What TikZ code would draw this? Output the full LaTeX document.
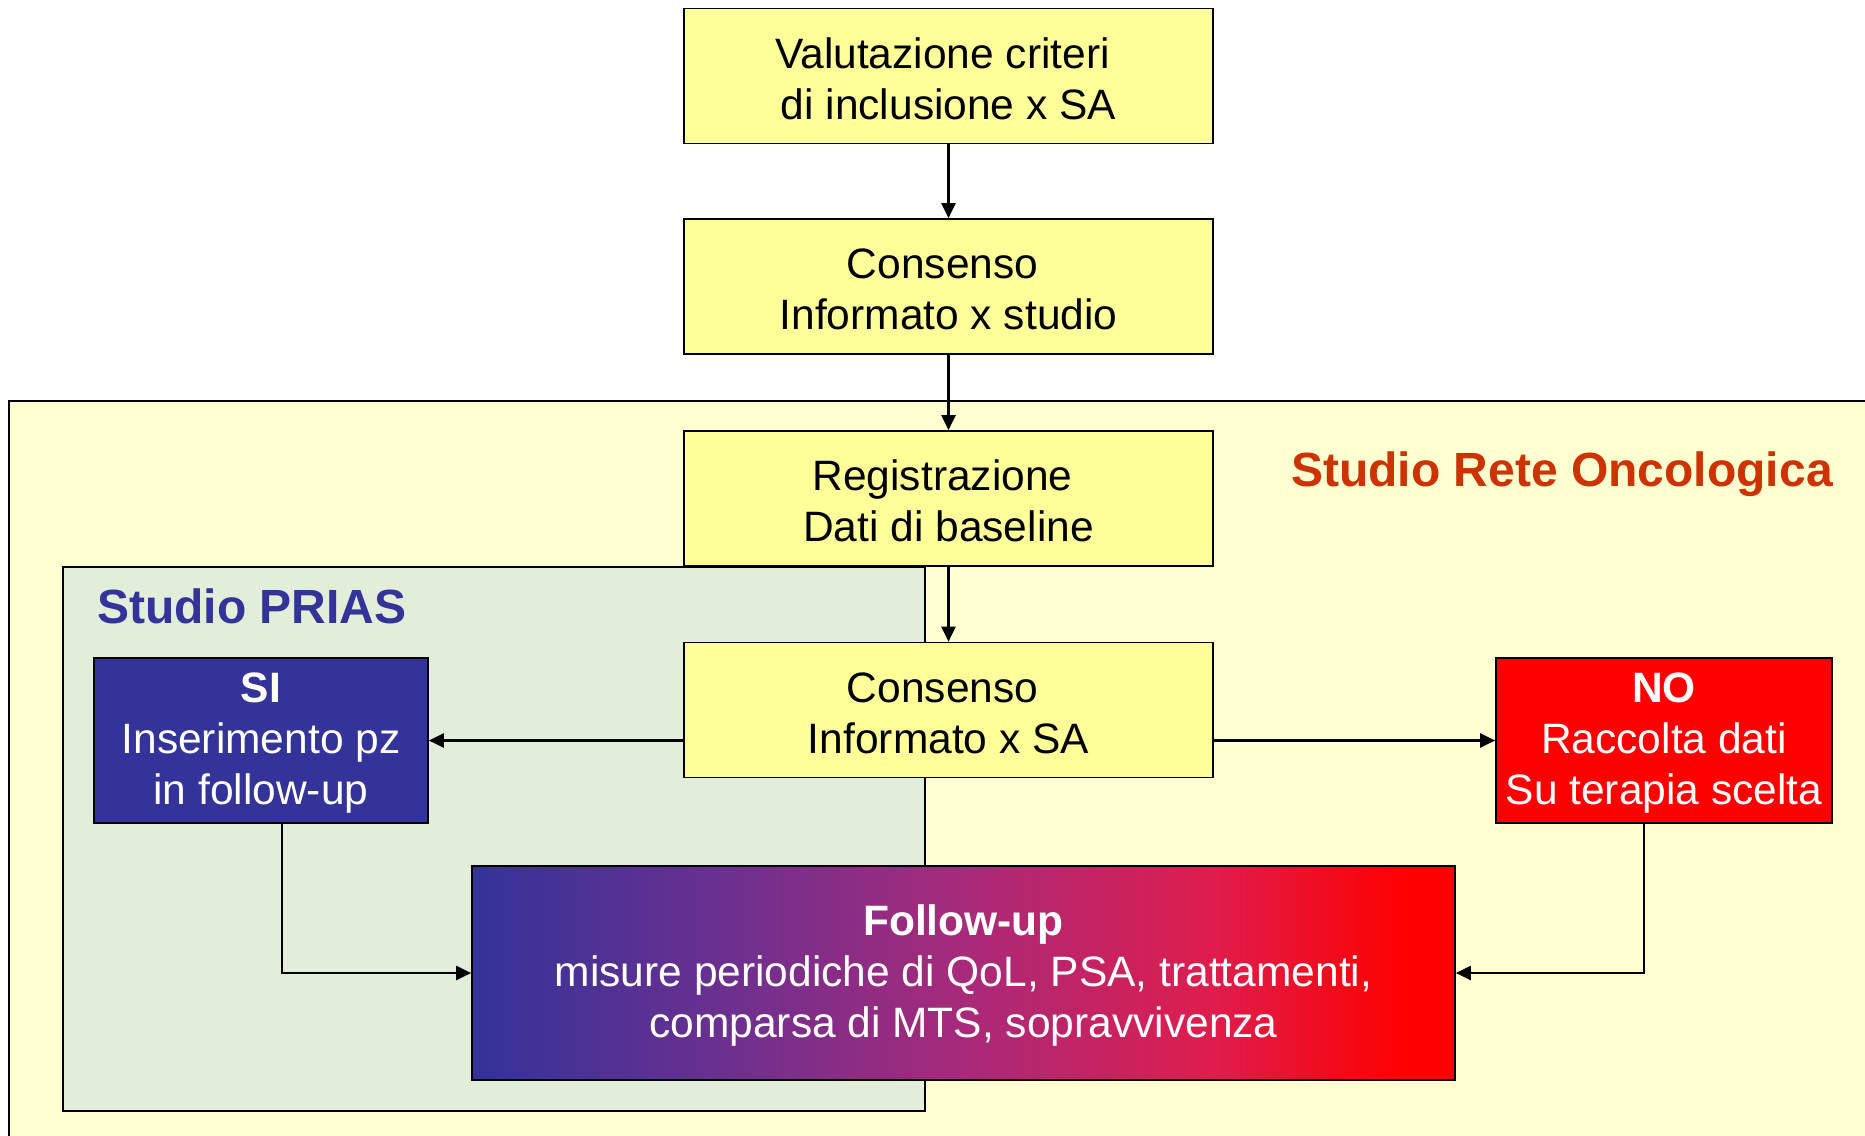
\documentclass[tikz,border=0pt]{standalone}
\usepackage{fontspec}
\setmainfont{Liberation Sans}
\usetikzlibrary{arrows.meta,calc}
\definecolor{boxyellow}{HTML}{FFFF99}
\definecolor{outerfill}{HTML}{FFFFD2}
\definecolor{priasfill}{HTML}{E2EEDA}
\definecolor{priasblue}{HTML}{333399}
\definecolor{reteorange}{HTML}{CC3300}
\definecolor{nored}{HTML}{FF0000}
\definecolor{gqa}{HTML}{6A3090}
\definecolor{gqb}{HTML}{A82A7A}
\definecolor{gqc}{HTML}{DE1D4E}
\pgfdeclarehorizontalshading{fushade}{100bp}{color(0bp)=(priasblue); color(25bp)=(priasblue); color(37.5bp)=(gqa); color(50bp)=(gqb); color(62.5bp)=(gqc); color(72.5bp)=(nored); color(100bp)=(nored)}
\newcommand{\tsp}{\hspace*{12pt}}
\begin{document}
\begin{tikzpicture}[x=1pt,y=-1pt,
  txt/.style={font=\fontsize{42.5}{51}\selectfont},
  ybox/.style={draw=black, line width=1.7pt, fill=boxyellow, minimum width=529pt,
    minimum height=135pt, align=center, inner sep=0pt, txt},
  cbox/.style={draw=black, line width=1.7pt, text=white, align=center, inner sep=0pt, txt},
  region/.style={draw=black, line width=1.7pt},
  title/.style={font=\fontsize{48}{58}\selectfont\bfseries, inner sep=0pt},
  arr/.style={line width=2.2pt, -{Triangle[length=15pt,width=14pt]}}]
\clip (0,0) rectangle (1865,1135);
\useasboundingbox (0,0) rectangle (1865,1135);
\fill[white] (0,0) rectangle (1865,1135);
% regions
\draw[region, fill=outerfill] (9,401) rectangle (1885,1150);
\draw[region, fill=priasfill] (63,567) rectangle (925,1111);
\node[title, text=reteorange] (rete) at (1562,474) {Studio Rete Oncologica};
\node[title, text=priasblue] (prias) at (252,606) {Studio PRIAS};
% boxes
\node[ybox] (b1) at (948.5,76) {\strut Valutazione criteri\tsp\\ di inclusione x SA};
\node[ybox] (b2) at (948.5,286.5) {\strut Consenso\tsp\\ Informato x studio};
\node[ybox] (b3) at (948.5,498.5) {\strut Registrazione\tsp\\ Dati di baseline};
\node[ybox] (b4) at (948.5,710) {\strut Consenso\tsp\\ Informato x SA};
\node[cbox, fill=priasblue, minimum width=334pt, minimum height=165pt] (si) at (261,740.5)
  {\strut\textbf{SI}\\ Inserimento pz\tsp\\ in follow-up};
\node[cbox, fill=nored, minimum width=336pt, minimum height=165pt] (no) at (1664,740.5)
  {\strut\textbf{NO}\\ Raccolta dati\\ Su terapia scelta};
\node[cbox, shading=fushade, minimum width=983pt, minimum height=214pt] (fu) at (963.5,973)
  {\strut\textbf{Follow-up}\\ misure periodiche di QoL, PSA, trattamenti,\tsp\\ comparsa di MTS, sopravvivenza};
% connectors
\draw[arr] (b1) -- (b2);
\draw[arr] (b2) -- (b3);
\draw[arr] (b3) -- (b4);
\draw[arr] (si.east -| b4.west) -- (si.east);
\draw[arr] (no.west -| b4.east) -- (no.west);
\draw[arr] ([xshift=21pt]si.south) |- (fu.west);
\draw[arr] ([xshift=-20pt]no.south) |- (fu.east);
\end{tikzpicture}
\end{document}
